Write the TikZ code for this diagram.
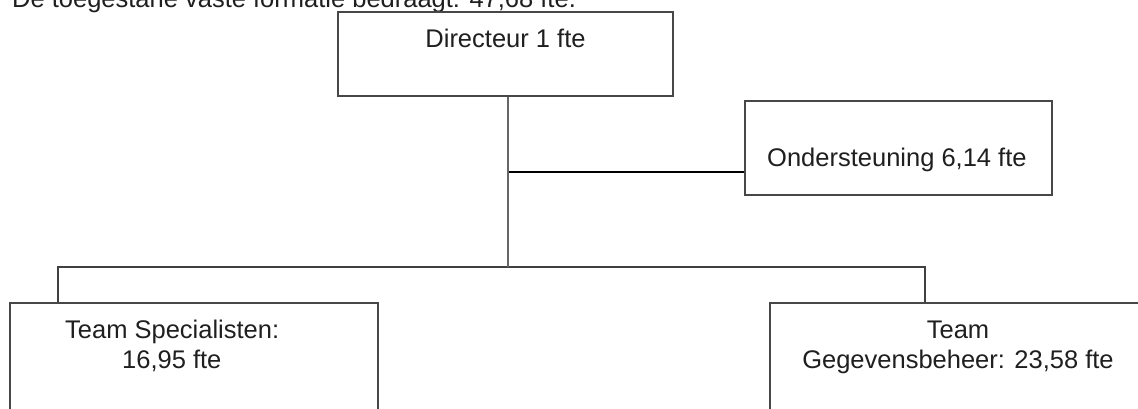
\documentclass[tikz,border=0pt]{standalone}
\usepackage{fontspec}
\setmainfont{Liberation Sans}
\begin{document}
\begin{tikzpicture}[x=1pt,y=-1pt,
  box/.style={draw=black!72, line width=2pt, fill=white, inner sep=0pt, rectangle},
  lbl/.style={inner sep=0pt, font=\fontsize{25.5}{30}\selectfont, text=black!88},
  trunk/.style={draw=black!60, line width=2.6pt},
  branch/.style={draw=black!75, line width=2pt},
  link/.style={draw=black, line width=1.3pt}]
\useasboundingbox (0,0) rectangle (1138,408);
\fill[white] (0,0) rectangle (1138,408);
% title (cut off at the top)
\node[lbl, anchor=base west] (title) at (12,7.5) {De toegestane vaste formatie bedraagt: 47,68 fte.};
% boxes
\node[box, minimum width=335pt, minimum height=84pt] (dir) at (505.5,54) {};
\node[box, minimum width=307pt, minimum height=94pt] (ond) at (898.5,148) {};
\node[box, minimum width=368pt, minimum height=127pt] (spec) at (194,366.5) {};
\node[box, minimum width=390pt, minimum height=127pt] (gege) at (965,366.5) {};
% labels
\node[lbl, anchor=base] (tdir) at (505.5,47) {Directeur 1 fte};
\node[lbl, anchor=base west] (tond) at (767,166) {Ondersteuning 6,14 fte};
\node[lbl, anchor=base west] (tspec1) at (65,338) {Team Specialisten:};
\node[lbl, anchor=base west] (tspec2) at (122,368) {16,95 fte};
\node[lbl, anchor=base] (tgeg1) at (958,338) {Team};
\node[lbl, anchor=base] (tgeg2) at (958,368) {Gegevensbeheer: 23,58 fte};
% connectors
\coordinate (j1) at (508,172);
\coordinate (j2) at (508,267);
\coordinate (bl) at (58,267);
\coordinate (br) at (925,267);
\draw[link] (j1) -- (ond.west |- j1);
\draw[branch] (spec.north -| bl) -- (bl) -- (br) -- (gege.north -| br);
\draw[trunk] (dir.south -| j2) -- (j2);
\end{tikzpicture}
\end{document}
